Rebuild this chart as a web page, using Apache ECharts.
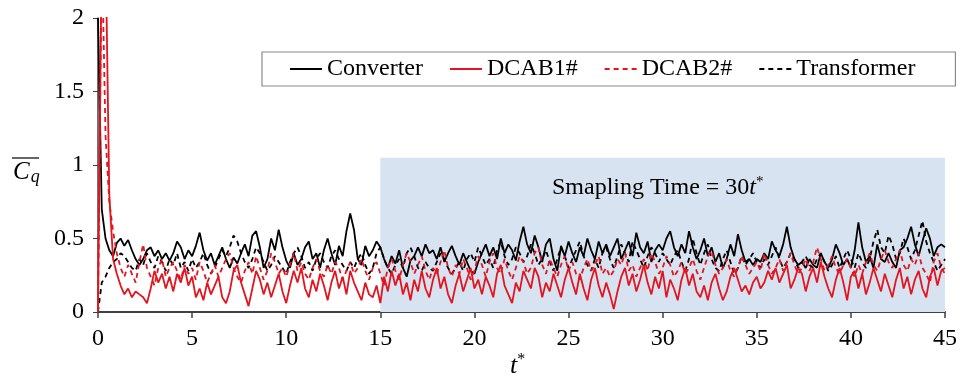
<!DOCTYPE html>
<html><head><meta charset="utf-8">
<script src="https://cdn.jsdelivr.net/npm/echarts@6/dist/echarts.min.js"></script>
<style>html,body{margin:0;padding:0;background:#fff}#c{width:960px;height:384px}</style>
</head><body><div id="c"></div>
<script>
const seriesNames = ['Converter', 'DCAB1#', 'DCAB2#', 'Transformer'];
const timeStep = 0.2; // t* spacing of the samples below
const xTicks = [0, 5, 10, 15, 20, 25, 30, 35, 40, 45];
const yTicks = [0, 0.5, 1, 1.5, 2];
const samplingWindow = [15, 45];
const samplingTop = 1.05;

const converter = [
 2.0,0.70,0.50,0.42,0.38, 0.47,0.50,0.45,0.49,0.42, 0.36,0.32,0.36,0.42,0.44, 0.38,0.42,0.36,0.40,0.35,
 0.40,0.48,0.44,0.36,0.42, 0.38,0.45,0.54,0.42,0.35, 0.40,0.32,0.38,0.44,0.36, 0.30,0.37,0.33,0.40,0.46,
 0.38,0.52,0.55,0.44,0.30, 0.36,0.50,0.42,0.56,0.44, 0.35,0.30,0.40,0.32,0.36, 0.44,0.48,0.36,0.40,0.30,
 0.42,0.50,0.40,0.32,0.45, 0.38,0.55,0.67,0.56,0.36, 0.32,0.45,0.38,0.42,0.48, 0.44,0.36,0.30,0.38,0.33,
 0.42,0.30,0.24,0.35,0.38, 0.44,0.38,0.46,0.40,0.42, 0.36,0.44,0.34,0.40,0.45, 0.38,0.32,0.40,0.34,0.28,
 0.26,0.34,0.40,0.46,0.38, 0.44,0.36,0.50,0.40,0.46, 0.42,0.35,0.48,0.58,0.46, 0.40,0.52,0.44,0.34,0.46,
 0.50,0.36,0.28,0.45,0.38, 0.48,0.40,0.34,0.44,0.38, 0.50,0.42,0.36,0.48,0.40, 0.46,0.38,0.44,0.50,0.36,
 0.42,0.48,0.38,0.54,0.44, 0.40,0.48,0.34,0.42,0.46, 0.42,0.50,0.55,0.44,0.38, 0.46,0.40,0.55,0.44,0.36,
 0.42,0.50,0.38,0.44,0.34, 0.40,0.30,0.36,0.46,0.38, 0.53,0.42,0.34,0.36,0.32, 0.36,0.34,0.40,0.36,0.48,
 0.42,0.38,0.46,0.58,0.44, 0.36,0.32,0.34,0.30,0.36, 0.32,0.30,0.40,0.34,0.30, 0.36,0.46,0.40,0.32,0.36,
 0.30,0.42,0.61,0.44,0.34, 0.38,0.30,0.46,0.36,0.34, 0.40,0.34,0.30,0.42,0.44, 0.50,0.58,0.46,0.38,0.48,
 0.57,0.50,0.38,0.44,0.46, 0.44
];
const dcab1 = [
 0.0,2.5,2.5,0.80,0.36, 0.26,0.18,0.12,0.16,0.10, 0.14,0.12,0.10,0.06,0.16, 0.28,0.20,0.26,0.16,0.24,
 0.14,0.26,0.20,0.30,0.18, 0.24,0.10,0.16,0.08,0.20, 0.12,0.18,0.24,0.10,0.06, 0.14,0.28,0.32,0.20,0.12,
 0.04,0.16,0.28,0.22,0.12, 0.20,0.10,0.18,0.26,0.14, 0.06,0.18,0.28,0.20,0.30, 0.16,0.10,0.22,0.14,0.26,
 0.18,0.08,0.20,0.28,0.16, 0.24,0.12,0.28,0.20,0.14, 0.08,0.20,0.12,0.10,0.18, 0.06,0.24,0.14,0.28,0.18,
 0.26,0.12,0.20,0.08,0.22, 0.14,0.28,0.16,0.10,0.22, 0.30,0.16,0.24,0.12,0.06, 0.18,0.26,0.14,0.22,0.30,
 0.16,0.22,0.12,0.24,0.18, 0.10,0.26,0.32,0.18,0.12, 0.06,0.20,0.14,0.28,0.22, 0.16,0.30,0.24,0.10,0.20,
 0.14,0.26,0.18,0.10,0.22, 0.30,0.20,0.12,0.26,0.16, 0.08,0.22,0.30,0.18,0.10, 0.20,0.12,0.02,0.14,0.24,
 0.30,0.18,0.26,0.14,0.22, 0.32,0.20,0.12,0.24,0.16, 0.28,0.10,0.22,0.16,0.08, 0.22,0.30,0.18,0.26,0.14,
 0.10,0.18,0.08,0.20,0.26, 0.16,0.08,0.14,0.24,0.30, 0.22,0.14,0.18,0.12,0.20, 0.24,0.16,0.20,0.28,0.22,
 0.30,0.20,0.26,0.32,0.16, 0.22,0.30,0.26,0.14,0.24, 0.30,0.20,0.34,0.24,0.16, 0.10,0.22,0.30,0.20,0.08,
 0.24,0.28,0.16,0.26,0.12, 0.20,0.30,0.22,0.14,0.26, 0.18,0.10,0.22,0.30,0.16, 0.24,0.12,0.22,0.28,0.16,
 0.10,0.24,0.30,0.18,0.28, 0.30
];
const dcab2 = [
 0.0,2.5,1.20,0.75,0.55, 0.40,0.30,0.24,0.32,0.26, 0.20,0.34,0.46,0.30,0.24, 0.18,0.30,0.36,0.24,0.30,
 0.34,0.28,0.22,0.32,0.26, 0.30,0.22,0.34,0.28,0.20, 0.26,0.32,0.24,0.30,0.36, 0.40,0.30,0.24,0.20,0.28,
 0.34,0.26,0.38,0.30,0.22, 0.28,0.40,0.34,0.26,0.30, 0.24,0.32,0.40,0.28,0.34, 0.26,0.22,0.30,0.36,0.28,
 0.24,0.32,0.26,0.34,0.30, 0.22,0.28,0.34,0.26,0.30, 0.36,0.28,0.22,0.30,0.34, 0.26,0.18,0.30,0.36,0.28,
 0.22,0.32,0.40,0.34,0.26, 0.32,0.38,0.28,0.22,0.30, 0.26,0.34,0.42,0.30,0.24, 0.32,0.26,0.36,0.30,0.22,
 0.28,0.38,0.32,0.24,0.34, 0.40,0.30,0.26,0.36,0.28, 0.22,0.30,0.38,0.34,0.26, 0.30,0.40,0.44,0.32,0.26,
 0.36,0.30,0.24,0.32,0.38, 0.28,0.34,0.26,0.22,0.30, 0.36,0.28,0.32,0.38,0.26, 0.30,0.24,0.28,0.36,0.32,
 0.40,0.28,0.32,0.24,0.30, 0.36,0.28,0.40,0.34,0.26, 0.30,0.38,0.32,0.24,0.28, 0.34,0.26,0.30,0.36,0.28,
 0.22,0.30,0.38,0.42,0.32, 0.26,0.30,0.36,0.28,0.24, 0.30,0.38,0.32,0.26,0.30, 0.34,0.28,0.40,0.32,0.26,
 0.30,0.36,0.28,0.34,0.40, 0.32,0.26,0.30,0.36,0.28, 0.34,0.44,0.36,0.28,0.32, 0.38,0.30,0.26,0.32,0.36,
 0.30,0.24,0.32,0.26,0.34, 0.40,0.32,0.28,0.36,0.42, 0.34,0.30,0.36,0.42,0.32, 0.28,0.36,0.32,0.40,0.30,
 0.26,0.20,0.34,0.40,0.30, 0.26
];
const transformer = [
 0.0,0.20,0.24,0.30,0.34, 0.36,0.40,0.38,0.34,0.30, 0.28,0.36,0.32,0.40,0.34, 0.30,0.38,0.34,0.28,0.36,
 0.32,0.40,0.30,0.34,0.28, 0.36,0.30,0.34,0.40,0.32, 0.26,0.30,0.36,0.42,0.38, 0.44,0.52,0.48,0.40,0.34,
 0.30,0.36,0.44,0.40,0.34, 0.28,0.32,0.38,0.34,0.30, 0.26,0.34,0.40,0.44,0.38, 0.30,0.34,0.28,0.36,0.40,
 0.34,0.30,0.38,0.42,0.36, 0.32,0.28,0.34,0.30,0.36, 0.40,0.32,0.26,0.30,0.40, 0.44,0.36,0.30,0.26,0.32,
 0.36,0.30,0.40,0.44,0.38, 0.30,0.28,0.34,0.30,0.28, 0.34,0.40,0.36,0.30,0.26, 0.30,0.34,0.28,0.36,0.40,
 0.34,0.44,0.38,0.32,0.36, 0.30,0.42,0.48,0.38,0.32, 0.36,0.44,0.40,0.34,0.38, 0.46,0.40,0.32,0.36,0.42,
 0.34,0.28,0.36,0.44,0.38, 0.30,0.36,0.42,0.48,0.38, 0.32,0.28,0.36,0.30,0.40, 0.44,0.36,0.30,0.38,0.46,
 0.40,0.34,0.48,0.42,0.36, 0.30,0.38,0.44,0.40,0.34, 0.40,0.36,0.32,0.38,0.42, 0.34,0.28,0.36,0.50,0.40,
 0.32,0.40,0.46,0.36,0.30, 0.28,0.36,0.42,0.34,0.26, 0.30,0.38,0.32,0.36,0.40, 0.34,0.30,0.36,0.32,0.38,
 0.44,0.36,0.30,0.34,0.40, 0.36,0.30,0.34,0.38,0.32, 0.30,0.36,0.40,0.34,0.28, 0.32,0.38,0.30,0.36,0.42,
 0.36,0.30,0.40,0.34,0.30, 0.36,0.48,0.56,0.44,0.40, 0.52,0.46,0.36,0.40,0.50, 0.44,0.36,0.42,0.52,0.62,
 0.48,0.40,0.34,0.28,0.32, 0.36
];

const toPairs = arr => arr.map((v, i) => [Math.round(i * timeStep * 10) / 10, v]);
const FONT = '"Liberation Serif", "Times New Roman", serif';
const RED = '#e4141e';

const chart = echarts.init(document.getElementById('c'), null, {renderer: 'canvas'});
const lineSeries = (name, data, color, dashed) => ({
  name, type: 'line', data: toPairs(data), symbol: 'none', showSymbol: false,
  clip: true, animation: false, z: 3,
  lineStyle: {color, width: 1.8, type: dashed ? [5, 4] : 'solid'},
  itemStyle: {color}
});

chart.setOption({
  animation: false,
  grid: {left: 98, right: 15, top: 18, bottom: 72},
  legend: {
    data: seriesNames, left: 262, top: 52,
    padding: [5, 40, 5, 27], itemGap: 26, itemWidth: 32, itemHeight: 14,
    borderColor: '#8a8a8a', borderWidth: 1.2, backgroundColor: '#fff',
    itemStyle: {opacity: 0},
    textStyle: {fontFamily: FONT, fontSize: 24, color: '#000'}
  },
  xAxis: {
    type: 'value', min: xTicks[0], max: xTicks[xTicks.length - 1], interval: 5,
    axisLine: {lineStyle: {color: '#404040', width: 2}},
    axisTick: {show: true, length: 6, lineStyle: {color: '#404040', width: 1.5}},
    axisLabel: {fontFamily: FONT, fontSize: 24, color: '#000', margin: 15},
    splitLine: {show: false}
  },
  yAxis: {
    type: 'value', min: yTicks[0], max: yTicks[yTicks.length - 1], interval: 0.5,
    axisLine: {show: true, lineStyle: {color: '#404040', width: 1.5}},
    axisTick: {show: true, length: 5, lineStyle: {color: '#404040'}},
    axisLabel: {fontFamily: FONT, fontSize: 24, color: '#000', margin: 14},
    splitLine: {show: false}
  },
  series: [
    {
      name: 'window', type: 'line', data: [], z: 1, silent: true,
      markArea: {
        silent: true,
        itemStyle: {color: '#d7e3f1'},
        data: [[{xAxis: samplingWindow[0], yAxis: 0}, {xAxis: samplingWindow[1], yAxis: samplingTop}]]
      }
    },
    lineSeries('Converter', converter, '#000', false),
    lineSeries('Transformer', transformer, '#000', true),
    lineSeries('DCAB2#', dcab2, RED, true),
    lineSeries('DCAB1#', dcab1, RED, false)
  ],
  graphic: [
    {
      type: 'text', left: 552, top: 175, z: 10,
      style: {
        text: '{n|Smapling Time = 30}{i|t}{s|*}',
        rich: {
          n: {fontFamily: FONT, fontSize: 24, fill: '#000'},
          i: {fontFamily: FONT, fontSize: 24, fontStyle: 'italic', fill: '#000'},
          s: {fontFamily: FONT, fontSize: 15, fill: '#000', verticalAlign: 'top', padding: [0, 0, 10, 0]}
        }
      }
    },
    {
      type: 'text', left: 510, top: 352, z: 10,
      style: {
        text: '{i|t}{s|*}',
        rich: {
          i: {fontFamily: FONT, fontSize: 26, fontStyle: 'italic', fill: '#000'},
          s: {fontFamily: FONT, fontSize: 16, fill: '#000', padding: [0, 0, 12, 0]}
        }
      }
    },
    {
      type: 'text', left: 13, top: 160, z: 10,
      style: {
        text: '{c|C}{q|q}',
        rich: {
          c: {fontFamily: FONT, fontSize: 25, fontStyle: 'italic', fill: '#000'},
          q: {fontFamily: FONT, fontSize: 18, fontStyle: 'italic', fill: '#000', padding: [10, 0, 0, 1]}
        }
      }
    },
    {
      type: 'line', z: 10,
      shape: {x1: 12, y1: 158, x2: 39, y2: 158},
      style: {stroke: '#000', lineWidth: 1.2}
    }
  ]
});
</script></body></html>
